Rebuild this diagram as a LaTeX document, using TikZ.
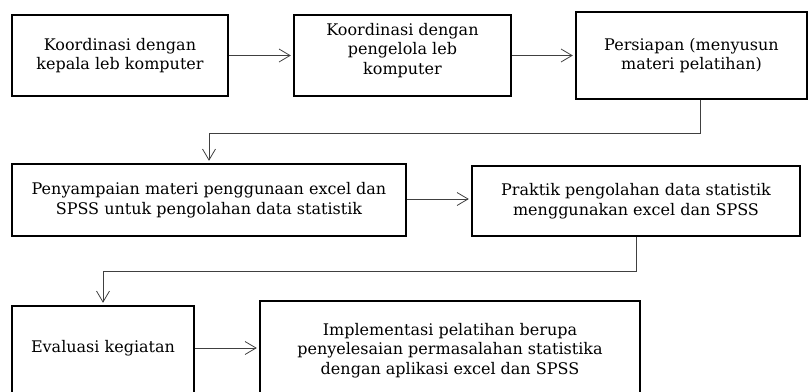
\documentclass[tikz,border=0pt]{standalone}
\usepackage{fontspec}
\setmainfont{DejaVu Serif}
\usetikzlibrary{arrows.meta}

\begin{document}
\begin{tikzpicture}[x=1pt, y=-1pt,
    box/.style={draw=black, line width=1.4pt, align=center, inner sep=0pt,
        font=\fontsize{16}{19.5}\selectfont},
    link/.style={draw=black!75, line width=0.8pt,
        -{Straight Barb[length=11pt,width=13pt]}, shorten >=2.5pt}]
    \useasboundingbox (0,0) rectangle (808,391);
    \clip (0,0) rectangle (808,391);

    % first row
    \node[box, minimum width=216pt, minimum height=81pt] (kepala) at (120,55.5)
        {Koordinasi dengan\\kepala leb komputer};
    \node[box, minimum width=217pt, minimum height=81pt, text depth=14pt] (pengelola) at (402.5,55.5)
        {Koordinasi dengan\\pengelola leb\\komputer};
    \node[box, minimum width=231pt, minimum height=87pt] (persiapan) at (691.5,55.5)
        {Persiapan (menyusun\\materi pelatihan)};

    % second row
    \node[box, minimum width=394pt, minimum height=72pt] (materi) at (209,200)
        {Penyampaian materi penggunaan excel dan\\SPSS untuk pengolahan data statistik};
    \node[box, minimum width=328pt, minimum height=70pt] (praktik) at (636,201)
        {Praktik pengolahan data statistik\\menggunakan excel dan SPSS};

    % third row
    \node[box, minimum width=182pt, minimum height=94pt, text depth=14pt] (evaluasi) at (103,353)
        {Evaluasi kegiatan};
    \node[box, minimum width=380pt, minimum height=99pt] (implementasi) at (450,350.5)
        {Implementasi pelatihan berupa\\penyelesaian permasalahan statistika\\dengan aplikasi excel dan SPSS};

    \draw[link] (kepala) -- (pengelola);
    \draw[link] (pengelola) -- (persiapan);
    \draw[link] ([xshift=8.5pt]persiapan.south) -- ++(0,33.5) -| (materi.north);
    \draw[link] ([yshift=1pt]materi.east) -- ([yshift=1pt]materi.east -| praktik.west);
    \draw[link] (praktik.south) -- ++(0,35) -| (evaluasi.north);
    \draw[link] ([yshift=5pt]evaluasi.east) -- ([yshift=5pt]evaluasi.east -| implementasi.west);
\end{tikzpicture}
\end{document}
